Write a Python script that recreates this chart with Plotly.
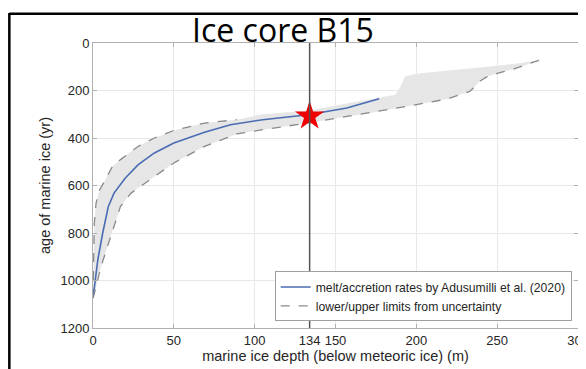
import numpy as np
import plotly.graph_objects as go

# Blue line: melt/accretion rates by Adusumilli et al. (2020)
melt_depth = [0, 3, 6, 9.5, 13, 20, 28, 38, 50, 69, 85, 105, 133, 157, 177]
melt_age = [1074, 912, 800, 688, 632, 568, 512, 463, 421, 376, 344, 323, 302, 274, 235]

# Upper dashed limit (younger ages), dashed up to ~89 m
young_dash_depth = [0, 0.4, 0.8, 1.9, 4, 7, 12, 17, 28, 38, 50, 69, 89]
young_dash_age = [1074, 950, 760, 674, 620, 583, 520, 491, 435, 400, 368, 337, 323]

# Continuation of the shaded region's top edge (no line)
young_edge_depth = [105, 133, 157, 177, 187, 190, 193, 200, 225, 250, 265, 277]
young_edge_age = [300, 285, 255, 232, 218, 185, 141, 129, 113, 96, 84, 70]

# Lower dashed limit (older ages)
old_depth = [0, 1, 5, 11, 17, 23.5, 32, 50, 69, 89, 105, 133, 157, 177, 194, 219, 233, 236, 239, 243.5, 250, 260, 268, 277]
old_age = [1074, 1050, 940, 814, 688, 632, 590, 505, 435, 383, 365, 337, 309, 288, 267, 236, 204, 185, 162, 143, 128, 110, 92, 70]

core_depth = 134
core_age = 308

x_ticks = [0, 50, 100, 134, 150, 200, 250, 300]
y_ticks = [0, 200, 400, 600, 800, 1000, 1200]

fig = go.Figure()

shade_x = list(young_dash_depth) + list(young_edge_depth) + old_depth[::-1]
shade_y = list(young_dash_age) + list(young_edge_age) + old_age[::-1]
fig.add_trace(go.Scatter(x=shade_x, y=shade_y, fill="toself", fillcolor="#e6e6e6",
                         line=dict(width=0), mode="lines", showlegend=False, hoverinfo="skip"))

fig.add_trace(go.Scatter(x=young_dash_depth, y=young_dash_age, mode="lines",
                         line=dict(color="#8a8a8a", width=1.3, dash="dash"), showlegend=False))

fig.add_trace(go.Scatter(x=melt_depth, y=melt_age, mode="lines",
                         line=dict(color="#4a6cb3", width=1.6),
                         name="melt/accretion rates by Adusumilli et al. (2020)"))

fig.add_trace(go.Scatter(x=old_depth, y=old_age, mode="lines",
                         line=dict(color="#8a8a8a", width=1.3, dash="dash"),
                         name="lower/upper limits from uncertainty"))

fig.add_vline(x=core_depth, line=dict(color="#555555", width=1.5), layer="above")

fig.add_trace(go.Scatter(x=[core_depth], y=[core_age], mode="markers",
                         marker=dict(symbol="star", size=22, color="#ee0000", line=dict(width=0)),
                         showlegend=False))

# Outer black frame (slide border)
fig.add_shape(type="line", xref="paper", yref="paper", x0=-0.1725, x1=-0.1725, y0=1.105, y1=-0.2,
              line=dict(color="black", width=2.5))
fig.add_shape(type="line", xref="paper", yref="paper", x0=-0.1725, x1=1.05, y0=1.103, y1=1.103,
              line=dict(color="black", width=2.5))

fig.add_annotation(text="Ice core B15", xref="paper", yref="paper", x=0.391, y=1.047,
                   xanchor="center", yanchor="middle", showarrow=False,
                   font=dict(family="Open Sans", size=32, color="black"))

fig.update_layout(
    width=578, height=361,
    margin=dict(l=85.3, r=8, t=35.3, b=40.7),
    paper_bgcolor="white", plot_bgcolor="white",
    font=dict(family="Liberation Sans, Arial", size=13, color="#262626"),
    legend=dict(x=0.987, y=0.023, xanchor="right", yanchor="bottom",
                bordercolor="#a0a0a0", borderwidth=1, bgcolor="white",
                font=dict(size=12.2, color="#262626"), itemwidth=30,
                tracegroupgap=0),
    xaxis=dict(range=[0, 300], tickvals=x_ticks, ticktext=[str(t) for t in x_ticks],
               showgrid=True, gridcolor="#e8e8e8", zeroline=False,
               showline=True, linecolor="#b0b0b0", mirror="ticks", ticks="inside",
               ticklen=4, tickcolor="#b0b0b0", automargin=False, ticklabeloverflow="allow",
               title=dict(text="marine ice depth (below meteoric ice) (m)", font=dict(size=14.5), standoff=4)),
    yaxis=dict(range=[1200, 0], tickvals=y_ticks, showgrid=True, gridcolor="#e8e8e8",
               zeroline=False, showline=True, linecolor="#b0b0b0", mirror="ticks",
               ticks="inside", ticklen=4, tickcolor="#b0b0b0", automargin=False,
               title=dict(text="age of marine ice (yr)", font=dict(size=14.5), standoff=6)),
)

fig.write_html("out.html")
